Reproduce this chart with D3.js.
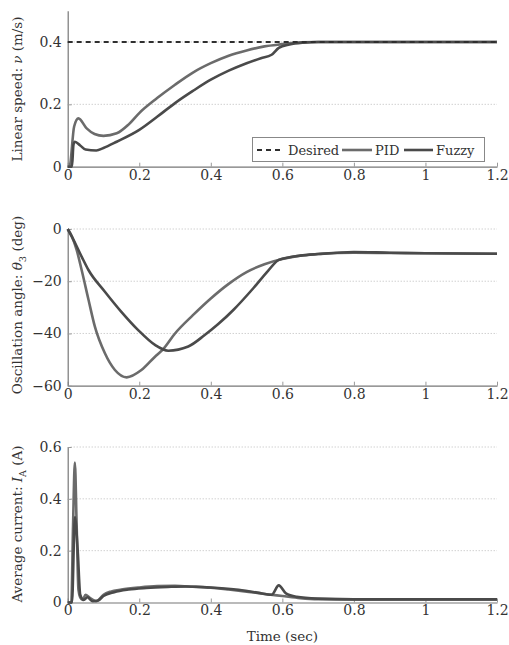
<!DOCTYPE html>
<html>
<head>
<meta charset="utf-8">
<script src="https://cdn.jsdelivr.net/npm/d3@7"></script>
<style>
  html, body { margin: 0; padding: 0; background: #fff; }
  svg { display: block; }
</style>
</head>
<body>
<svg id="chart" width="509" height="645"></svg>
<script>
// ---------- data ----------
const xTicks = [0, 0.2, 0.4, 0.6, 0.8, 1, 1.2];

// Panel 1: linear speed (m/s)
const speedTicks = [0, 0.2, 0.4];
const desiredTime = [0, 1.2];
const desiredSpeed = [0.4, 0.4];
const speedTimePID = [0, 0.005, 0.018, 0.03, 0.053, 0.075, 0.1, 0.137, 0.17, 0.2, 0.25, 0.3, 0.35, 0.4, 0.45, 0.5, 0.55, 0.6, 0.65, 0.7, 0.8, 1.2];
const speedPID     = [0, 0, 0.129, 0.155, 0.123, 0.105, 0.099, 0.107, 0.135, 0.172, 0.22, 0.263, 0.302, 0.332, 0.356, 0.373, 0.386, 0.393, 0.399, 0.4, 0.4, 0.4];
const speedTimeFuzzy = [0, 0.012, 0.016, 0.02, 0.035, 0.05, 0.08, 0.1, 0.137, 0.2, 0.25, 0.3, 0.35, 0.4, 0.45, 0.5, 0.54, 0.57, 0.59, 0.62, 0.66, 0.7, 0.8, 1.2];
const speedFuzzy     = [0, 0, 0.07, 0.08, 0.068, 0.055, 0.052, 0.06, 0.08, 0.118, 0.16, 0.204, 0.243, 0.279, 0.308, 0.332, 0.348, 0.359, 0.381, 0.392, 0.398, 0.4, 0.4, 0.4];

// Panel 2: oscillation angle (deg)
const angleTicks = [-60, -40, -20, 0];
const angleTimePID = [0, 0.012, 0.025, 0.039, 0.058, 0.076, 0.104, 0.132, 0.165, 0.206, 0.244, 0.267, 0.3, 0.35, 0.4, 0.45, 0.5, 0.55, 0.6, 0.65, 0.7, 0.8, 0.9, 1.0, 1.2];
const anglePID     = [0, -3, -8, -15.7, -27, -37.4, -47.6, -54, -56.8, -54, -48.9, -46, -40, -33, -26.6, -21, -16.5, -13.5, -11.5, -10.2, -9.6, -9.1, -9.2, -9.3, -9.5];
const angleTimeFuzzy = [0, 0.012, 0.039, 0.058, 0.104, 0.15, 0.197, 0.244, 0.281, 0.337, 0.383, 0.42, 0.463, 0.52, 0.56, 0.59, 0.62, 0.65, 0.7, 0.8, 0.9, 1.0, 1.2];
const angleFuzzy     = [0, -3, -10.6, -15.7, -24, -31.7, -38.7, -44.4, -46.6, -45, -40.6, -36.5, -31, -22.5, -16, -11.8, -10.8, -10.2, -9.6, -8.8, -9.1, -9.3, -9.5];

// Panel 3: average current (A)
const currentTicks = [0, 0.2, 0.4, 0.6];
const currentTimePID = [0, 0.01, 0.015, 0.02, 0.025, 0.03, 0.035, 0.042, 0.05, 0.06, 0.08, 0.1, 0.12, 0.15, 0.2, 0.25, 0.3, 0.35, 0.4, 0.45, 0.5, 0.55, 0.6, 0.65, 0.7, 0.8, 1.2];
const currentPID     = [0, 0, 0.3, 0.54, 0.3, 0.05, 0.02, 0.01, 0.03, 0.02, 0.005, 0.03, 0.042, 0.05, 0.058, 0.063, 0.064, 0.061, 0.057, 0.05, 0.042, 0.033, 0.025, 0.017, 0.013, 0.012, 0.012];
const currentTimeFuzzy = [0, 0.012, 0.02, 0.028, 0.035, 0.045, 0.055, 0.07, 0.085, 0.1, 0.13, 0.17, 0.22, 0.28, 0.33, 0.4, 0.47, 0.53, 0.57, 0.59, 0.61, 0.64, 0.7, 0.8, 1.2];
const currentFuzzy     = [0, 0, 0.33, 0.2, 0.03, 0.01, 0.02, 0.005, 0.008, 0.025, 0.04, 0.05, 0.056, 0.06, 0.062, 0.058, 0.05, 0.038, 0.03, 0.066, 0.035, 0.022, 0.015, 0.012, 0.012];

const legendLabels = ["Desired", "PID", "Fuzzy"];

// ---------- drawing ----------
const FONT = "'DejaVu Serif', 'Liberation Serif', 'Noto Serif', serif";
const svg = d3.select("#chart").style("font-family", FONT);
svg.append("rect").attr("width", 509).attr("height", 645).attr("fill", "#fff");

const colPID = "#6b6b6b", colFuzzy = "#4a4a4a", colDesired = "#2f2f2f", colText = "#333";
const x = d3.scaleLinear().domain([0, 1.2]).range([67.7, 497]);

const fmt = d => {
  if (d === 0) return "0";
  const s = String(+Math.abs(d).toFixed(2));
  return (d < 0 ? "\u2212" : "") + s;
};

function zip(ts, vs) { return ts.map((t, i) => [t, vs[i]]); }

function styleText(sel, size) {
  sel.style("font-family", FONT).attr("font-size", size).attr("fill", colText);
}

function panel(cfg) {
  const y = d3.scaleLinear().domain(cfg.domain).range(cfg.range);
  const g = svg.append("g");

  g.selectAll("line.grid").data(cfg.yTicks.filter(v => v !== cfg.domain[0]))
    .join("line")
    .attr("x1", x(0) + 3).attr("x2", x(1.2))
    .attr("y1", d => y(d)).attr("y2", d => y(d))
    .attr("stroke", "#bbb").attr("stroke-width", 1).attr("stroke-dasharray", "1,2");

  const xa = g.append("g").attr("transform", `translate(0,${y(cfg.domain[0])})`)
    .call(d3.axisBottom(x).tickValues(xTicks).tickFormat(fmt).tickSizeInner(-4).tickSizeOuter(0).tickPadding(3));
  xa.select(".domain").attr("stroke", "#777").attr("stroke-width", 1.2);
  xa.selectAll(".tick line").attr("stroke", "#999");
  styleText(xa.selectAll("text"), 14);

  const ya = g.append("g").attr("transform", `translate(${x(0)},0)`)
    .call(d3.axisLeft(y).tickValues(cfg.yTicks).tickFormat(fmt).tickSizeInner(-4).tickSizeOuter(0).tickPadding(6));
  ya.select(".domain").attr("stroke", "#777").attr("stroke-width", 1.2);
  ya.selectAll(".tick line").attr("stroke", "#999");
  styleText(ya.selectAll("text"), 14);

  const line = d3.line().x(d => x(d[0])).y(d => y(d[1])).curve(d3.curveMonotoneX);
  cfg.series.forEach(s => {
    g.append("path").datum(zip(s.t, s.v))
      .attr("d", line).attr("fill", "none")
      .attr("stroke", s.color).attr("stroke-width", s.width || 2.6)
      .attr("stroke-dasharray", s.dash || null)
      .attr("stroke-linejoin", "round");
  });

  const lbl = g.append("text")
    .attr("transform", `translate(${cfg.labelX},${cfg.labelY}) rotate(-90)`)
    .attr("text-anchor", "middle");
  styleText(lbl, 13.5);
  cfg.label(lbl);
  return y;
}

panel({
  domain: [0, 0.5], range: [166.7, 10.8], yTicks: speedTicks,
  labelX: 22, labelY: 89,
  series: [
    { t: speedTimePID, v: speedPID, color: colPID },
    { t: speedTimeFuzzy, v: speedFuzzy, color: colFuzzy },
    { t: desiredTime, v: desiredSpeed, color: colDesired, dash: "5,4", width: 2 }
  ],
  label: t => {
    t.append("tspan").text("Linear speed:  ");
    t.append("tspan").attr("font-style", "italic").text("ν");
    t.append("tspan").text(" (m/s)");
  }
});

panel({
  domain: [-60, 0], range: [385.7, 229], yTicks: angleTicks,
  labelX: 22, labelY: 305,
  series: [
    { t: angleTimePID, v: anglePID, color: colPID },
    { t: angleTimeFuzzy, v: angleFuzzy, color: colFuzzy }
  ],
  label: t => {
    t.append("tspan").text("Oscillation angle:  ");
    t.append("tspan").attr("font-style", "italic").text("θ");
    t.append("tspan").attr("font-size", 10).attr("dy", 4).text("3");
    t.append("tspan").attr("dy", -4).text(" (deg)");
  }
});

panel({
  domain: [0, 0.6], range: [602.5, 447], yTicks: currentTicks,
  labelX: 22, labelY: 524,
  series: [
    { t: currentTimePID, v: currentPID, color: colPID },
    { t: currentTimeFuzzy, v: currentFuzzy, color: colFuzzy }
  ],
  label: t => {
    t.append("tspan").text("Average current:  ");
    t.append("tspan").attr("font-style", "italic").text("I");
    t.append("tspan").attr("font-size", 9.5).attr("dy", 4).text("A");
    t.append("tspan").attr("dy", -4).text(" (A)");
  }
});

const xl = svg.append("text").attr("x", x(0.6)).attr("y", 641)
  .attr("text-anchor", "middle").text("Time (sec)");
styleText(xl, 13.5);

const lg = svg.append("g");
lg.append("rect").attr("x", 252.5).attr("y", 137.5).attr("width", 232).attr("height", 24)
  .attr("fill", "#fff").attr("stroke", "#888").attr("stroke-width", 1);
const legendItems = [
  { label: legendLabels[0], x1: 257, x2: 283, tx: 288, color: colDesired, dash: "5,4", w: 2 },
  { label: legendLabels[1], x1: 342, x2: 372, tx: 375, color: colPID, dash: null, w: 2.6 },
  { label: legendLabels[2], x1: 404, x2: 433, tx: 436, color: colFuzzy, dash: null, w: 2.6 }
];
legendItems.forEach(d => {
  lg.append("line").attr("x1", d.x1).attr("x2", d.x2).attr("y1", 150).attr("y2", 150)
    .attr("stroke", d.color).attr("stroke-width", d.w).attr("stroke-dasharray", d.dash);
  const t = lg.append("text").attr("x", d.tx).attr("y", 154.5).text(d.label);
  styleText(t, 13);
});
</script>
</body>
</html>
